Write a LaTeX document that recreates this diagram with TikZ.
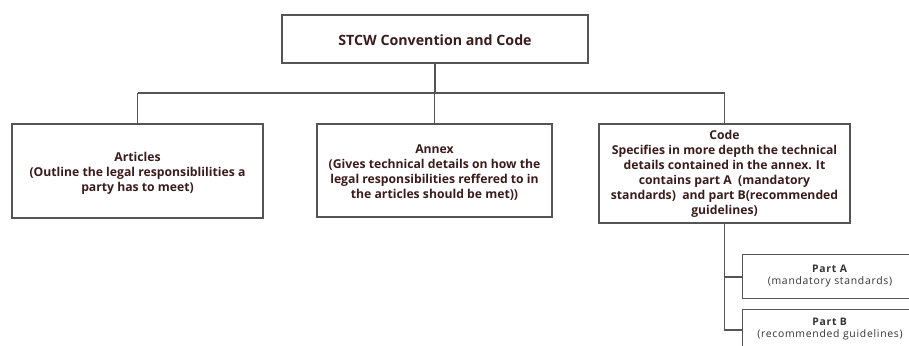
\documentclass[tikz,border=0pt]{standalone}
\usepackage{fontspec}
\setmainfont{Open Sans}
\definecolor{txt}{HTML}{3A1C1C}
\definecolor{ptxt}{HTML}{333333}
\definecolor{ln}{HTML}{555555}
\begin{document}
\begin{tikzpicture}[x=1pt,y=-1pt,
  box/.style={draw=ln,line width=1.4pt,fill=white,inner sep=0pt},
  lbl/.style={align=center,text=txt,font=\bfseries\fontsize{12.2}{15}\selectfont},
  plbl/.style={align=center,text=ptxt,font=\addfontfeature{LetterSpace=7}\fontsize{10.4}{12}\selectfont},
  conn/.style={draw=ln,line width=1.4pt}]
\useasboundingbox (0,0) rectangle (909,345);
\clip (0,0) rectangle (909,345);
% boxes
\node[box,minimum width=306pt,minimum height=48pt] (top) at (435,39) {};
\node[lbl,font=\bfseries\fontsize{14.2}{16}\selectfont] (toplbl) at (435,40) {STCW Convention and Code};
\node[box,minimum width=251pt,minimum height=94pt] (art) at (137.5,171) {};
\node[lbl] (artlbl) at (137.5,173) {Articles\\(Outline the legal responsiblilities a\\party has to meet)};
\node[box,minimum width=235pt,minimum height=93pt] (anx) at (434.5,170.5) {};
\node[lbl] (anxlbl) at (434.5,173) {Annex\\(Gives technical details on how the\\legal responsibilities reffered to in\\the articles should be met))};
\node[box,minimum width=251pt,minimum height=99pt] (code) at (724.5,173.5) {};
\node[lbl] (codelbl) at (724.5,174) {Code\\Specifies in more depth the technical\\details contained in the annex. It\\contains part A~ (mandatory\\standards)~ and part B(recommended\\guidelines)};
\node[box,minimum width=190pt,minimum height=44pt,anchor=north west] (pa) at (742,254) {};
\node[plbl] (palbl) at (830,276) {\textbf{Part A}\\(mandatory standards)};
\node[box,minimum width=190pt,minimum height=44pt,anchor=north west] (pb) at (742,309) {};
\node[plbl] (pblbl) at (830,329) {\textbf{Part B}\\(recommended guidelines)};
% connectors
\coordinate (hl) at (art.north |- 0,93);
\coordinate (hm) at (top.south |- 0,93);
\coordinate (hr) at (code.north |- 0,93);
\draw[conn] (top.south) -- (hm);
\draw[conn] (hl) -- (hr);
\draw[conn] (hl) -- (art.north);
\draw[conn] (anx.north |- hm) -- (anx.north);
\draw[conn] (hr) -- (code.north);
\coordinate (ja) at (code.south |- 0,277);
\coordinate (jb) at (code.south |- 0,330);
\draw[conn] (code.south) -- (jb) -- (pb.west |- jb);
\draw[conn] (ja) -- (pa.west |- ja);
\end{tikzpicture}
\end{document}
